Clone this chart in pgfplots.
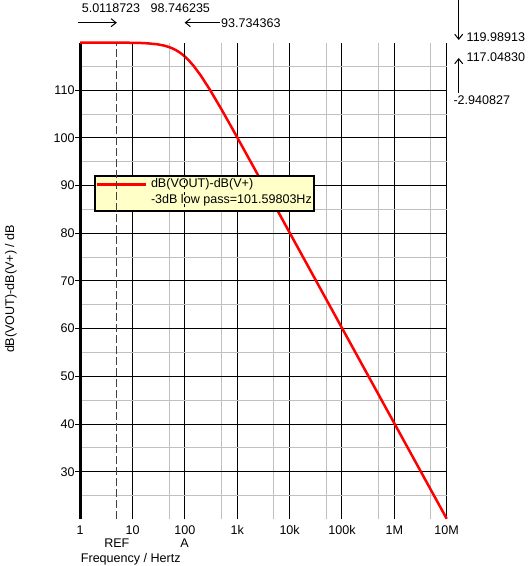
\documentclass[border=0pt]{standalone}
\usepackage{pgfplots}
\pgfplotsset{compat=1.18}
\usepackage{fontspec}
\setmainfont{Liberation Sans}
\usetikzlibrary{arrows.meta}

\definecolor{legfill}{RGB}{255,255,200}
\definecolor{gridgray}{RGB}{192,192,192}

\begin{document}
\fontsize{12.6}{14}\selectfont
\begin{tikzpicture}[x=1bp,y=1bp,
  cur/.style={line width=1bp,-{Straight Barb[length=5bp,width=8bp]}}]
\path[use as bounding box] (0,0) rectangle (528,566);
\begin{axis}[
  at={(80.2bp,46.6bp)}, anchor=south west,
  scale only axis, width=366.5bp, height=476.8bp,
  xmode=log, log basis x=10,
  xmin=1, xmax=1e7, ymin=20, ymax=120,
  axis line style={draw=none},
  xtick={1,10,100,1000,10000,100000,1000000,10000000},
  xticklabels={1,10,100,1k,10k,100k,1M,10M},
  minor xtick={50,500,5000,50000,500000,5000000},
  ytick={30,40,...,110},
  minor ytick={25,35,...,115},
  grid=both,
  major grid style={black, line width=1bp},
  minor grid style={gridgray, line width=1bp},
  xtick style={draw=none},
  ytick style={black, line width=1bp},
  major tick length=5bp,
  minor tick length=0bp,
  tick align=outside,
  tick pos=left,
  /pgf/number format/assume math mode=true,
  ticklabel style={font=\fontsize{12.6}{14}\selectfont},
  yticklabel style={inner sep=0.5bp},
  xticklabel style={inner sep=1bp},
  clip=false,
]
% left axis line
\draw[line width=3bp] (axis cs:1,20) -- (axis cs:1,120);

% dB(VOUT)-dB(V+), single-pole low pass
\addplot[red, line width=2.5bp, line join=round] coordinates {
  (1,120.00) (2,120.00) (5,119.99) (10,119.96) (15,119.91) (20,119.83)
  (30,119.64) (40,119.37) (50,119.06) (60,118.70) (70,118.31) (80,117.90)
  (90,117.48) (100,117.06) (120,116.21) (150,114.98) (200,113.12)
  (300,110.12) (500,105.98) (700,103.14) (1000,100.09) (2000,94.11)
  (5000,86.16) (10000,80.14) (100000,60.14) (1000000,40.14) (10000000,20.14)
};

% cursor positions
\coordinate (refB) at (axis cs:5.0118723,20);
\coordinate (refT) at (axis cs:5.0118723,120);
\coordinate (aB) at (axis cs:98.746235,20);
\coordinate (aT) at (axis cs:98.746235,120);
\end{axis}

% legend
\draw[line width=2bp, fill=legfill] (95.3,390.3) rectangle (314,355);
\draw[red, line width=2.5bp] (96.7,381.7) -- (145.7,381.7);
\node[anchor=west, inner sep=0pt] at (150.8,381.7) {dB(VOUT)-dB(V+)};
\node[anchor=west, inner sep=0pt] at (150.8,365.3) {-3dB low pass=101.59803Hz};

% cursor lines
\draw[black!75, line width=1bp, dash pattern=on 8bp off 3bp] (refB) -- (refT);
\draw[black, line width=1bp, dash pattern=on 3bp off 3bp] (aB) -- (aT);

% cursor labels
\coordinate (lab) at (0,18.3);
\node[anchor=base, inner sep=0pt] at (refB |- lab) {REF};
\node[anchor=base, inner sep=0pt] at (aB |- lab) {A};
\node[anchor=base west, inner sep=0pt] at (80.7,3.5) {Frequency / Hertz};
\node[rotate=90, inner sep=0pt] at (11,277) {dB(VOUT)-dB(V+) / dB};

% horizontal cursor readout
\coordinate (ry) at (0,543.3);
\node[inner sep=0pt] at (111,558.3) {5.0118723};
\node[inner sep=0pt] at (180.3,558.3) {98.746235};
\draw[cur] (77.7,543.3) -- (refT |- ry);
\draw[cur] (220,543.3) -- (aT |- ry);
\node[anchor=west, inner sep=0pt] at (221,543.3) {93.734363};

% vertical cursor readout
\draw[cur] (458.7,566) -- (458.7,526);
\draw[cur] (458.7,473) -- (458.7,508);
\node[anchor=west, inner sep=0pt] at (466.5,529) {119.98913};
\node[anchor=west, inner sep=0pt] at (466.5,509) {117.04830};
\node[anchor=west, inner sep=0pt] at (453.3,466) {-2.940827};
\end{tikzpicture}
\end{document}
